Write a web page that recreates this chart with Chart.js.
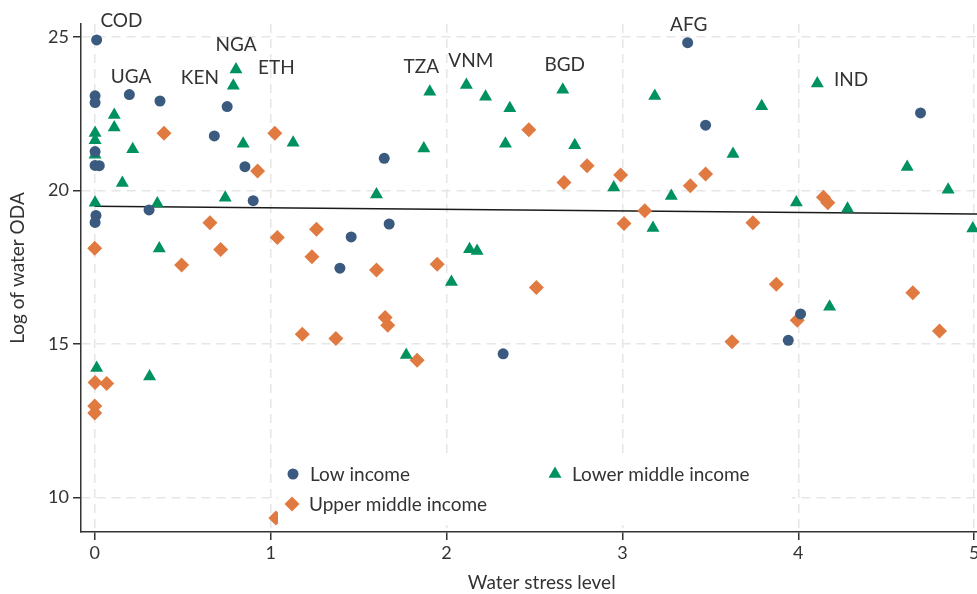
<!DOCTYPE html>
<html>
<head>
<meta charset="utf-8">
<script src="https://cdn.jsdelivr.net/npm/chart.js@4.4.1/dist/chart.umd.min.js"></script>
<style>
  html, body { margin: 0; padding: 0; background: #fff; overflow: hidden; }
  #wrap { width: 1010px; height: 594px; }
</style>
</head>
<body>
<div id="wrap"><canvas id="waterChart" width="1010" height="594"></canvas></div>
<script>
// Low income (circles)
const lowX = [0.011, 0.002, 0.002, 0.197, 0.371, 0.753, 0.680, 0.002, 0.002, 0.026, 0.854, 0.901, 0.007,
    0.002, 0.309, 1.646, 1.458, 1.674, 1.394, 2.322, 3.371, 3.473, 4.695, 4.013, 3.943];
const lowY = [24.91, 23.09, 22.87, 23.13, 22.92, 22.74, 21.78, 21.27, 20.82, 20.81, 20.78, 19.67, 19.19,
    18.96, 19.37, 21.05, 18.49, 18.91, 17.47, 14.68, 24.82, 22.13, 22.53, 15.98, 15.12];

// Lower middle income (triangles)
const lowerMidX = [0.803, 0.788, 0.111, 0.111, 0.002, 0.002, 0.002, 0.216, 0.844, 1.128, 0.157, 0.002, 0.356,
    0.742, 0.367, 0.011, 0.312, 1.905, 2.113, 2.222, 2.360, 1.871, 2.335, 2.661, 2.729, 1.602, 2.951,
    2.131, 2.174, 2.028, 1.771, 3.184, 3.792, 3.629, 4.108, 4.619, 4.852, 3.278, 3.174, 3.989, 4.280,
    4.992, 4.178];
const lowerMidY = [23.95, 23.42, 22.46, 22.06, 21.88, 21.64, 21.17, 21.35, 21.53, 21.56, 20.25, 19.60, 19.58,
    19.77, 18.11, 14.22, 13.94, 23.22, 23.44, 23.06, 22.68, 21.37, 21.53, 23.29, 21.48, 19.87, 20.10,
    18.09, 18.03, 17.02, 14.64, 23.08, 22.75, 21.19, 23.49, 20.77, 20.03, 19.82, 18.78, 19.61, 19.41,
    18.76, 16.21];

// Upper middle income (diamonds)
const upperMidX = [0.394, 1.024, 0.926, 0.000, 0.494, 0.655, 0.716, 1.038, 1.261, 1.235, 1.180, 0.002, 0.068,
    0.000, 0.000, 1.030, 2.468, 2.799, 2.668, 2.990, 1.602, 1.947, 1.651, 1.666, 1.371, 1.833, 2.511,
    3.009, 3.127, 3.473, 3.386, 4.143, 4.168, 3.742, 3.875, 3.994, 3.623, 4.651, 4.803];
const upperMidY = [21.87, 21.87, 20.64, 18.12, 17.57, 18.95, 18.08, 18.47, 18.74, 17.84, 15.32, 13.74, 13.71,
    12.98, 12.75, 9.33, 21.98, 20.81, 20.26, 20.51, 17.41, 17.60, 15.86, 15.61, 15.18, 14.47, 16.84,
    18.93, 19.34, 20.54, 20.16, 19.78, 19.60, 18.95, 16.95, 15.77, 15.07, 16.67, 15.42];

// fitted line
const fitX = [0, 5.16];
const fitY = [19.49, 19.23];

// country labels (text centre, in data units)
const labelText = ['COD', 'UGA', 'NGA', 'KEN', 'ETH', 'TZA', 'VNM', 'BGD', 'AFG', 'IND'];
const labelX = [0.152, 0.206, 0.804, 0.598, 1.033, 1.857, 2.138, 2.672, 3.377, 4.300];
const labelY = [25.53, 23.70, 24.75, 23.67, 24.00, 24.03, 24.23, 24.10, 25.40, 23.61];

const xTicks = [0, 1, 2, 3, 4, 5];
const yTicks = [10, 15, 20, 25];

const groupNames = ['Low income', 'Lower middle income', 'Upper middle income'];

const NAVY = '#3a5a7f';
const GREEN = '#00925e';
const ORANGE = '#e07a40';
const TEXT = '#333333';
const FONT = 'Lato, "DejaVu Sans", sans-serif';

function toPoints(xs, ys) {
    return xs.map((x, i) => ({ x: x, y: ys[i] }));
}

function marker(ctx, style, x, y, r, color) {
    ctx.fillStyle = color;
    ctx.beginPath();
    if (style === 'circle') {
        ctx.arc(x, y, r, 0, Math.PI * 2);
    } else if (style === 'triangle') {
        ctx.moveTo(x, y - r);
        ctx.lineTo(x + r * 0.866, y + r / 2);
        ctx.lineTo(x - r * 0.866, y + r / 2);
    } else {
        ctx.moveTo(x, y - r);
        ctx.lineTo(x + r, y);
        ctx.lineTo(x, y + r);
        ctx.lineTo(x - r, y);
    }
    ctx.closePath();
    ctx.fill();
}

const countryLabels = {
    id: 'countryLabels',
    afterDatasetsDraw(chart) {
        const ctx = chart.ctx;
        const xs = chart.scales.x;
        const ys = chart.scales.y;
        ctx.save();
        ctx.font = '19px ' + FONT;
        ctx.fillStyle = TEXT;
        ctx.textAlign = 'center';
        ctx.textBaseline = 'middle';
        labelText.forEach((t, i) => {
            ctx.fillText(t, xs.getPixelForValue(labelX[i]), ys.getPixelForValue(labelY[i]));
        });
        ctx.restore();
    }
};

// legend sits inside the plot on a white box
const insideLegend = {
    id: 'insideLegend',
    afterDatasetsDraw(chart) {
        const ctx = chart.ctx;
        ctx.save();
        ctx.fillStyle = '#ffffff';
        ctx.fillRect(278, 453, 514, 72);
        const items = [
            { style: 'circle', color: NAVY, r: 5.5, x: 293, y: 474 },
            { style: 'triangle', color: GREEN, r: 7.5, x: 555, y: 474 },
            { style: 'rectRot', color: ORANGE, r: 7.5, x: 292, y: 504 }
        ];
        ctx.font = '19px ' + FONT;
        ctx.textBaseline = 'middle';
        items.forEach((it, i) => {
            marker(ctx, it.style, it.x, it.y, it.r, it.color);
            ctx.fillStyle = TEXT;
            ctx.fillText(groupNames[i], it.x + 17, it.y + 1);
        });
        // y axis title
        ctx.translate(18, 268);
        ctx.rotate(-Math.PI / 2);
        ctx.textAlign = 'center';
        ctx.font = '19px ' + FONT;
        ctx.fillText('Log of water ODA', 0, 0);
        ctx.restore();
    }
};

const ctx = document.getElementById('waterChart').getContext('2d');

const waterChart = new Chart(ctx, {
    type: 'scatter',
    data: {
        datasets: [{
            label: 'Fit',
            data: toPoints(fitX, fitY),
            showLine: true,
            borderColor: '#1a1a1a',
            borderWidth: 1.6,
            pointRadius: 0,
            order: 10
        }, {
            label: groupNames[0],
            data: toPoints(lowX, lowY),
            pointStyle: 'circle',
            pointRadius: 5.5,
            backgroundColor: NAVY,
            borderWidth: 0,
            order: 1
        }, {
            label: groupNames[1],
            data: toPoints(lowerMidX, lowerMidY),
            pointStyle: 'triangle',
            pointRadius: 7.5,
            backgroundColor: GREEN,
            borderWidth: 0,
            order: 1
        }, {
            label: groupNames[2],
            data: toPoints(upperMidX, upperMidY),
            pointStyle: 'rectRot',
            pointRadius: 7.5,
            backgroundColor: ORANGE,
            borderWidth: 0,
            order: 1
        }]
    },
    options: {
        responsive: false,
        animation: false,
        events: [],
        layout: {
            padding: { top: 24, right: 7, bottom: 0, left: 0 }
        },
        plugins: {
            legend: { display: false },
            tooltip: { enabled: false }
        },
        scales: {
            x: {
                type: 'linear',
                min: -0.078,
                max: 5.161,
                afterBuildTicks: s => { s.ticks = xTicks.map(v => ({ value: v })); },
                afterFit: s => { s.height = 62; },
                grid: {
                    color: '#e6e6e6',
                    lineWidth: 1.5,
                    tickColor: TEXT,
                    tickWidth: 1.5,
                    tickLength: 8,
                    tickBorderDash: []
                },
                border: { color: TEXT, width: 1.5, dash: [9, 6] },
                ticks: {
                    color: TEXT,
                    font: { family: FONT, size: 18 },
                    padding: 2,
                    maxRotation: 0
                },
                title: {
                    display: true,
                    text: 'Water stress level',
                    color: TEXT,
                    font: { family: FONT, size: 19 },
                    padding: { top: 0, bottom: 0 }
                }
            },
            y: {
                type: 'linear',
                min: 8.87,
                max: 25.43,
                afterBuildTicks: s => { s.ticks = yTicks.map(v => ({ value: v })); },
                afterFit: s => { s.width = 81; },
                grid: {
                    color: '#e6e6e6',
                    lineWidth: 1.5,
                    tickColor: TEXT,
                    tickWidth: 1.5,
                    tickLength: 8,
                    tickBorderDash: []
                },
                border: { color: TEXT, width: 1.5, dash: [9, 6] },
                ticks: {
                    color: TEXT,
                    font: { family: FONT, size: 18 },
                    padding: 4
                }
            }
        }
    },
    plugins: [countryLabels, insideLegend]
});
</script>
</body>
</html>
